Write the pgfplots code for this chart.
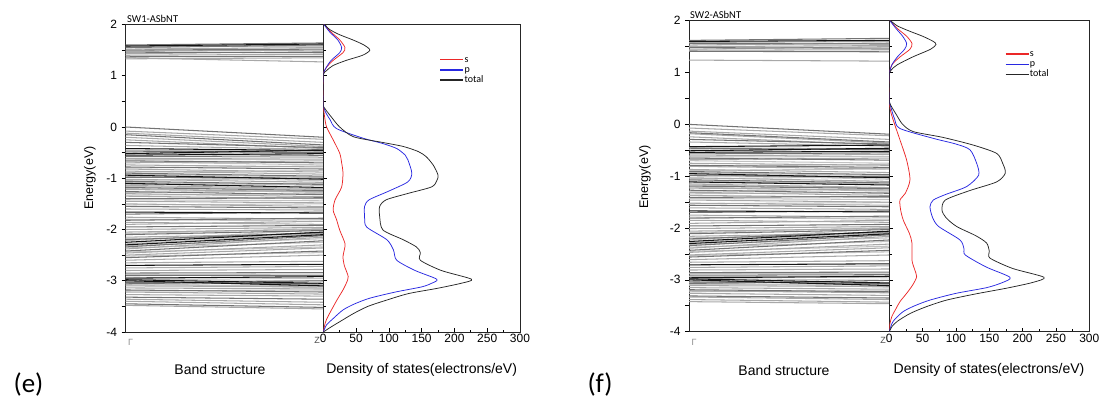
\documentclass[border=0pt]{standalone}
\usepackage{fontspec}
\setmainfont{Liberation Sans}
\newfontfamily\calfont{Carlito}
\usepackage{pgfplots}
\usepackage{pgfplotstable}
\pgfplotsset{compat=1.18}

% ---------- band structure (e): Gamma energy, Z energy ----------
\pgfplotstableread{
g z
-0.45 -0.48
-0.50 -0.55
-0.64 -0.63
-0.68 -0.74
-0.80 -0.76
-0.88 -0.85
-0.92 -0.98
-0.96 -1.05
-1.04 -1.00
-1.08 -1.14
-1.12 -1.10
-1.16 -1.22
-1.20 -1.28
-1.28 -1.24
-1.33 -1.30
-1.42 -1.44
-1.52 -1.50
-1.80 -1.84
-2.08 -1.98
-2.18 -2.12
-2.22 -2.00
-2.28 -2.08
-2.32 -2.18
-2.36 -2.25
-2.44 -2.34
-2.52 -2.45
-2.88 -2.87
-2.93 -2.96
-2.97 -3.00
-3.02 -3.08
-3.05 -3.14
-3.08 -3.10
-3.20 -3.18
}\bandEX
\pgfplotstableread{
g z
1.57 1.58
1.52 1.55
1.48 1.50
1.43 1.47
1.40 1.42
1.35 1.27
1.33 1.35
-0.08 -0.24
-0.12 -0.30
-0.20 -0.38
-0.25 -0.42
-0.36 -0.44
-0.62 -0.60
-0.70 -0.66
-0.74 -0.78
-0.82 -0.88
-0.86 -0.92
-1.02 -1.08
-1.14 -1.20
-1.22 -1.26
-1.30 -1.36
-1.35 -1.40
-1.45 -1.48
-1.50 -1.55
-1.60 -1.62
-1.76 -1.80
-1.86 -1.90
-1.90 -1.84
-2.00 -1.96
-2.05 -2.00
-2.15 -2.08
-2.38 -2.15
-2.46 -2.30
-2.50 -2.36
-2.60 -2.50
-2.65 -2.62
-2.75 -2.72
-2.80 -2.78
-3.10 -3.12
-3.14 -3.16
-3.22 -3.26
-3.27 -3.30
-3.36 -3.42
-3.40 -3.47
-3.48 -3.55
}\bandEL
\pgfplotstableread{
g z
1.60 1.64
1.55 1.60
1.50 1.52
1.46 1.45
1.37 1.38
0.00 -0.20
-0.15 -0.35
-0.30 -0.40
-0.47 -0.50
-0.58 -0.56
-0.66 -0.70
-0.78 -0.82
-0.90 -0.96
-0.98 -1.00
-1.06 -1.12
-1.18 -1.24
-1.26 -1.32
-1.40 -1.38
-1.55 -1.58
-1.70 -1.66
-1.82 -1.78
-1.95 -1.92
-2.10 -2.02
-2.20 -2.06
-2.34 -2.12
-2.42 -2.22
-2.55 -2.42
-2.85 -2.84
-2.90 -2.90
-3.03 -3.06
-3.06 -3.00
-3.18 -3.22
-3.32 -3.36
-3.45 -3.52
}\bandED
\pgfplotstableread{
g z
1.58 1.62
-0.42 -0.46
-0.52 -0.45
-0.55 -0.52
-0.94 -1.02
-1.10 -1.18
-1.66 -1.68
-2.25 -2.05
-2.30 -2.10
-2.70 -2.68
-2.95 -2.92
-2.98 -3.05
-3.00 -3.10
}\bandEK

% ---------- band structure (f) ----------
\pgfplotstableread{
g z
-0.45 -0.47
-0.49 -0.54
-0.63 -0.62
-0.70 -0.75
-0.81 -0.77
-0.89 -0.86
-0.93 -0.99
-0.97 -1.06
-1.05 -1.01
-1.09 -1.15
-1.13 -1.11
-1.17 -1.23
-1.21 -1.29
-1.29 -1.25
-1.34 -1.31
-1.43 -1.45
-1.53 -1.51
-1.79 -1.83
-2.09 -1.99
-2.19 -2.13
-2.23 -2.01
-2.28 -2.09
-2.32 -2.19
-2.37 -2.26
-2.45 -2.35
-2.53 -2.46
-2.88 -2.87
-2.93 -2.96
-2.97 -3.01
-3.02 -3.09
-3.05 -3.14
-3.09 -3.10
-3.23 -3.21
}\bandFX
\pgfplotstableread{
g z
1.58 1.60
1.53 1.57
1.50 1.52
1.45 1.50
1.43 1.44
1.24 1.22
-0.07 -0.22
-0.13 -0.29
-0.18 -0.36
-0.24 -0.40
-0.34 -0.42
-0.61 -0.58
-0.68 -0.65
-0.75 -0.79
-0.81 -0.86
-0.87 -0.93
-1.03 -1.10
-1.15 -1.22
-1.23 -1.27
-1.31 -1.37
-1.37 -1.41
-1.46 -1.50
-1.52 -1.56
-1.61 -1.64
-1.75 -1.79
-1.85 -1.89
-1.91 -1.85
-2.01 -1.97
-2.06 -2.01
-2.16 -2.09
-2.39 -2.16
-2.47 -2.31
-2.52 -2.38
-2.61 -2.52
-2.66 -2.63
-2.76 -2.73
-2.81 -2.79
-3.11 -3.13
-3.15 -3.18
-3.21 -3.25
-3.26 -3.30
-3.33 -3.38
-3.38 -3.43
-3.42 -3.46
}\bandFL
\pgfplotstableread{
g z
1.62 1.66
1.56 1.55
1.48 1.47
1.41 1.40
0.00 -0.19
-0.16 -0.34
-0.29 -0.38
-0.46 -0.49
-0.57 -0.55
-0.65 -0.69
-0.79 -0.83
-0.91 -0.97
-0.99 -1.01
-1.07 -1.13
-1.19 -1.24
-1.27 -1.33
-1.41 -1.39
-1.56 -1.59
-1.70 -1.67
-1.81 -1.77
-1.96 -1.93
-2.11 -2.03
-2.21 -2.07
-2.34 -2.13
-2.43 -2.23
-2.56 -2.43
-2.86 -2.85
-2.91 -2.90
-3.04 -3.07
-3.07 -3.01
-3.19 -3.23
-3.31 -3.35
}\bandFD
\pgfplotstableread{
g z
1.60 1.62
-0.43 -0.40
-0.51 -0.46
-0.54 -0.52
-0.95 -1.03
-1.11 -1.17
-1.67 -1.69
-2.26 -2.06
-2.30 -2.11
-2.71 -2.69
-2.96 -2.93
-2.98 -3.06
-3.00 -3.11
}\bandFK

% ---------- DOS (e) ----------
\pgfplotstableread{
e d
2.00 2
1.90 10
1.80 25
1.70 45
1.60 62
1.50 71
1.40 60
1.30 35
1.20 15
1.10 5
1.00 0
0.45 0
0.35 3
0.20 12
0.00 25
-0.19 46
-0.30 90
-0.38 122
-0.48 145
-0.58 157
-0.75 168
-0.94 175
-1.05 173
-1.17 165
-1.30 128
-1.42 96
-1.55 86
-1.75 86
-2.01 91
-2.20 122
-2.34 142
-2.45 148
-2.60 148
-2.80 180
-2.97 226
-3.05 210
-3.15 173
-3.25 130
-3.38 96
-3.50 68
-3.64 46
-3.80 25
-3.90 12
-4.00 0
}\dosEt
\pgfplotstableread{
e d
2.00 1
1.85 10
1.70 22
1.55 28
1.45 25
1.30 12
1.15 4
1.00 0
0.45 0
0.30 3
0.15 10
-0.03 20
-0.22 61
-0.32 90
-0.42 112
-0.55 125
-0.64 129
-0.90 135
-1.07 129
-1.25 100
-1.42 70
-1.55 63
-1.75 63
-1.95 66
-2.20 97
-2.40 107
-2.60 112
-2.80 140
-2.97 173
-3.05 165
-3.12 150
-3.22 110
-3.34 71
-3.45 48
-3.57 30
-3.75 14
-3.86 5
-4.00 0
}\dosEp
\pgfplotstableread{
e d
2.00 1
1.85 12
1.70 25
1.55 33
1.45 30
1.30 15
1.15 4
1.00 0
0.45 0
0.20 2
0.00 5
-0.25 15
-0.51 25
-0.70 28
-0.90 30
-1.17 28
-1.42 18
-1.62 15
-1.80 20
-2.01 25
-2.27 33
-2.40 32
-2.53 30
-2.70 32
-2.92 38
-3.05 35
-3.18 30
-3.35 22
-3.51 15
-3.70 7
-3.82 3
-4.00 0
}\dosEs

% ---------- DOS (f) ----------
\pgfplotstableread{
e d
2.00 2
1.90 12
1.80 30
1.70 50
1.60 66
1.54 70
1.45 62
1.30 35
1.15 12
1.05 3
0.95 0
0.47 0
0.35 3
0.20 10
0.00 20
-0.14 36
-0.25 80
-0.40 126
-0.56 161
-0.75 170
-0.94 174
-1.11 161
-1.28 120
-1.46 84
-1.65 79
-1.80 85
-1.97 101
-2.15 130
-2.29 146
-2.45 150
-2.58 151
-2.78 185
-2.95 232
-3.05 215
-3.16 176
-3.27 130
-3.39 86
-3.52 55
-3.65 31
-3.80 12
-3.90 4
-4.00 0
}\dosFt
\pgfplotstableread{
e d
2.00 1
1.85 10
1.70 20
1.56 26
1.45 23
1.30 12
1.15 4
0.95 0
0.47 0
0.30 3
0.10 8
-0.08 16
-0.27 66
-0.38 100
-0.49 121
-0.75 131
-0.98 134
-1.20 116
-1.35 85
-1.46 66
-1.59 61
-1.80 65
-1.97 74
-2.23 106
-2.40 112
-2.52 114
-2.75 145
-2.95 181
-3.05 170
-3.15 146
-3.26 100
-3.39 61
-3.50 38
-3.61 21
-3.75 9
-3.84 4
-4.00 0
}\dosFp
\pgfplotstableread{
e d
2.00 1
1.85 12
1.70 26
1.56 34
1.45 31
1.30 16
1.15 4
0.95 0
0.47 0
0.25 2
0.00 8
-0.30 16
-0.69 26
-1.07 31
-1.33 24
-1.46 16
-1.65 17
-1.85 21
-2.10 30
-2.29 34
-2.62 34
-2.80 38
-2.94 41
-3.10 35
-3.26 26
-3.42 16
-3.58 9
-3.70 4
-3.84 1
-4.00 0
}\dosFs

\definecolor{bandX}{gray}{0.76}
\definecolor{bandL}{gray}{0.66}
\definecolor{bandD}{gray}{0.45}
\definecolor{bandK}{gray}{0.08}
\definecolor{sred}{RGB}{235,40,40}
\definecolor{pblue}{RGB}{40,40,225}

\pgfplotsset{
  bandax/.style={
    scale only axis, anchor=south west,
    xmin=0, xmax=1, ymin=-4, ymax=2,
    axis line style={line width=0.9pt, black!85},
    xtick={0}, xticklabels={Γ},
    xticklabel style={anchor=north west, xshift=-1pt, font=\fontsize{9}{9}\selectfont, text=black!45},
    extra x ticks={1}, extra x tick labels={Z},
    extra x tick style={xticklabel style={anchor=north east, xshift=1pt, yshift=2pt, text=black!70}},
    major x tick style={draw=none},
    ytick={-4,-3,-2,-1,0,1,2}, yticklabels={-4,-3,-2,-1,0,1,2},
    minor ytick={-3.5,-2.5,-1.5,-0.5,0.5,1.5},
    ytick pos=left, tick align=outside,
    major tick length=4pt, minor tick length=4pt,
    every tick/.style={black, line width=0.7pt},
    yticklabel style={font=\fontsize{12}{12}\selectfont, xshift=-1pt},
  },
  bandline/.style={quiver={u=1, v=\thisrow{z}-\thisrow{g}}, line width=1.05pt, #1},
  dosax/.style={
    scale only axis, anchor=south west,
    xmin=0, xmax=300, ymin=-4, ymax=2,
    axis line style={line width=0.9pt, black!85},
    xtick={0,50,100,150,200,250,300},
    minor xtick={25,75,125,175,225,275},
    ytick={-4,-3,-2,-1,0,1,2}, yticklabels={},
    minor ytick={-3.5,-2.5,-1.5,-0.5,0.5,1.5},
    xtick pos=bottom, ytick pos=left, tick align=inside,
    major tick length=4pt, minor tick length=2.5pt,
    every tick/.style={black, line width=0.7pt},
    xticklabel style={font=\fontsize{12}{12}\selectfont, yshift=1pt},
    /pgf/number format/assume math mode=true,
    legend cell align=left,
    legend image code/.code={\draw[#1, line width=1.35pt] (0pt,0pt) -- (23pt,0pt);},
    legend style={draw=none, fill=none, inner sep=0pt, row sep=0pt,
      font=\calfont\fontsize{10}{10}\selectfont,
      nodes={inner sep=0.6pt, text height=7pt, text depth=2pt}},
  },
  dosline/.style={smooth, tension=0.45, line width=0.75pt, mark=none, #1},
}

\begin{document}
\begin{tikzpicture}
\useasboundingbox (0pt,0pt) rectangle (1100pt,399pt);

% ================= panel (e) =================
\begin{axis}[bandax, at={(125.7pt,67pt)}, width=197.6pt, height=307.5pt]
  \addplot[bandline=bandX] table[x expr=0, y=g] {\bandEX};
  \addplot[bandline=bandL] table[x expr=0, y=g] {\bandEL};
  \addplot[bandline=bandD] table[x expr=0, y=g] {\bandED};
  \addplot[bandline=bandK] table[x expr=0, y=g] {\bandEK};
\end{axis}
\begin{axis}[dosax, at={(323.3pt,67pt)}, width=196.7pt, height=307.5pt,
  legend style={at={(axis cs:177,1.418)}, anchor=north west}]
  \addplot[dosline=sred] table[x=d, y=e] {\dosEs};
  \addplot[dosline=pblue] table[x=d, y=e] {\dosEp};
  \addplot[dosline=black!85] table[x=d, y=e] {\dosEt};
  \legend{s,p,total}
\end{axis}

% ================= panel (f) =================
\begin{axis}[bandax, at={(689pt,67.3pt)}, width=200.3pt, height=311pt]
  \addplot[bandline=bandX] table[x expr=0, y=g] {\bandFX};
  \addplot[bandline=bandL] table[x expr=0, y=g] {\bandFL};
  \addplot[bandline=bandD] table[x expr=0, y=g] {\bandFD};
  \addplot[bandline=bandK] table[x expr=0, y=g] {\bandFK};
\end{axis}
\begin{axis}[dosax, at={(889.3pt,67.3pt)}, width=200pt, height=311pt,
  legend style={at={(axis cs:173,1.46)}, anchor=north west}]
  \addplot[dosline=sred] table[x=d, y=e] {\dosFs};
  \addplot[dosline=pblue] table[x=d, y=e] {\dosFp};
  \addplot[dosline=black!85] table[x=d, y=e] {\dosFt};
  \legend{s,p,total}
\end{axis}

% ================= texts =================
\node[anchor=base west, font=\calfont\fontsize{10.5}{10.5}\selectfont, inner sep=0pt] at (127pt,376.5pt) {SW1-ASbNT};
\node[anchor=base west, font=\calfont\fontsize{10.5}{10.5}\selectfont, inner sep=0pt] at (690pt,380.5pt) {SW2-ASbNT};
\node[rotate=90, font=\fontsize{12.5}{12.5}\selectfont] at (90pt,221pt) {Energy(eV)};
\node[rotate=90, font=\fontsize{12.5}{12.5}\selectfont] at (645pt,222pt) {Energy(eV)};
\node[font=\fontsize{14}{14}\selectfont] at (220pt,30pt) {Band structure};
\node[font=\fontsize{14}{14}\selectfont] at (784pt,29pt) {Band structure};
\node[font=\fontsize{14}{14}\selectfont] at (421.7pt,29pt) {Density of states(electrons/eV)};
\node[font=\fontsize{14}{14}\selectfont] at (989pt,29pt) {Density of states(electrons/eV)};
\node[font=\calfont\fontsize{27}{27}\selectfont] at (28.5pt,15pt) {(e)};
\node[font=\calfont\fontsize{27}{27}\selectfont] at (600pt,15pt) {(f)};
\end{tikzpicture}
\end{document}
